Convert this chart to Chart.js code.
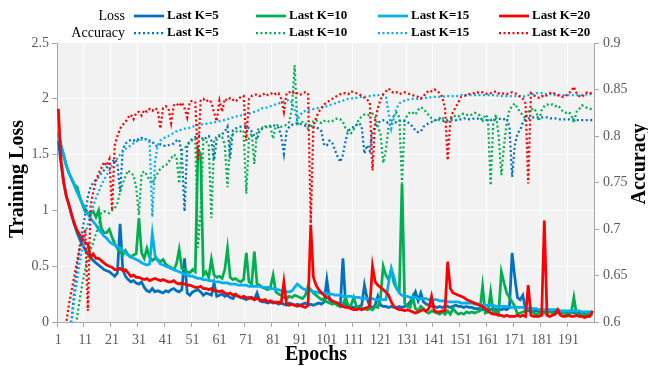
<!DOCTYPE html>
<html>
<head>
<meta charset="utf-8">
<script src="https://cdn.jsdelivr.net/npm/chart.js@4.4.1/dist/chart.umd.min.js"></script>
<style>
  html, body { margin: 0; padding: 0; background: #ffffff; }
</style>
</head>
<body>
<canvas id="myChart" width="648" height="367"></canvas>
<script>
// Categories: training epochs 1..200
const epochs = Array.from({ length: 200 }, (_, i) => i + 1);
const xTickLabels = [1, 11, 21, 31, 41, 51, 61, 71, 81, 91, 101, 111, 121, 131, 141, 151, 161, 171, 181, 191];
const lossTicks = [0, 0.5, 1, 1.5, 2, 2.5];
const accTicks = [0.6, 0.65, 0.7, 0.75, 0.8, 0.85, 0.9];
const seriesNames = ['Last K=5', 'Last K=10', 'Last K=15', 'Last K=20'];

// Training loss (left axis)
const lossK5 = [
  1.62, 1.42, 1.25, 1.13, 1.04, 0.95, 0.87, 0.80, 0.74, 0.69, 0.65, 0.61, 0.58, 0.55, 0.53, 0.51, 0.49, 0.47, 0.46, 0.45,
  0.43, 0.41, 0.44, 0.88, 0.47, 0.41, 0.38, 0.36, 0.37, 0.35, 0.34, 0.36, 0.31, 0.28, 0.27, 0.30, 0.27, 0.28, 0.27, 0.26,
  0.28, 0.27, 0.29, 0.30, 0.28, 0.27, 0.29, 0.57, 0.26, 0.24, 0.27, 0.28, 0.29, 0.27, 0.24, 0.26, 0.25, 0.24, 0.35, 0.23,
  0.24, 0.25, 0.23, 0.24, 0.22, 0.21, 0.24, 0.23, 0.22, 0.21, 0.20, 0.22, 0.21, 0.20, 0.26, 0.19, 0.18, 0.18, 0.17, 0.18,
  0.17, 0.18, 0.16, 0.17, 0.16, 0.15, 0.17, 0.16, 0.15, 0.16, 0.15, 0.16, 0.17, 0.15, 0.16, 0.15, 0.16, 0.17, 0.16, 0.18,
  0.38, 0.20, 0.18, 0.17, 0.15, 0.14, 0.57, 0.15, 0.14, 0.14, 0.13, 0.13, 0.14, 0.15, 0.33, 0.21, 0.14, 0.13, 0.15, 0.23,
  0.15, 0.14, 0.14, 0.13, 0.14, 0.13, 0.13, 0.14, 0.13, 0.14, 0.15, 0.18, 0.22, 0.27, 0.19, 0.26, 0.18, 0.16, 0.15, 0.14,
  0.14, 0.13, 0.14, 0.13, 0.14, 0.14, 0.13, 0.14, 0.15, 0.14, 0.14, 0.13, 0.14, 0.13, 0.13, 0.12, 0.12, 0.12, 0.11, 0.12,
  0.11, 0.11, 0.12, 0.11, 0.11, 0.11, 0.12, 0.11, 0.13, 0.62, 0.40, 0.22, 0.20, 0.24, 0.11, 0.10, 0.10, 0.10, 0.10, 0.10,
  0.10, 0.09, 0.10, 0.09, 0.09, 0.09, 0.09, 0.09, 0.09, 0.09, 0.09, 0.09, 0.08, 0.09, 0.08, 0.08, 0.08, 0.08, 0.08, 0.08
];
const lossK10 = [
  1.69, 1.58, 1.50, 1.40, 1.33, 1.28, 1.23, 1.21, 1.12, 1.05, 0.99, 0.98, 0.97, 0.99, 0.94, 1.00, 0.84, 0.80, 0.80, 0.83,
  0.76, 0.70, 0.66, 0.63, 0.60, 0.64, 0.60, 0.58, 0.60, 0.61, 0.93, 0.62, 0.57, 0.66, 0.58, 0.55, 0.57, 0.56, 0.54, 0.56,
  0.52, 0.50, 0.49, 0.47, 0.52, 0.65, 0.48, 0.47, 0.45, 0.44, 0.47, 0.45, 1.55, 1.50, 0.42, 0.45, 0.40, 0.56, 0.42, 0.40,
  0.41, 0.39, 0.47, 0.66, 0.40, 0.38, 0.39, 0.37, 0.36, 0.38, 0.62, 0.36, 0.34, 0.63, 0.34, 0.33, 0.31, 0.30, 0.29, 0.31,
  0.42, 0.27, 0.25, 0.24, 0.22, 0.21, 0.23, 0.22, 0.24, 0.23, 0.22, 0.21, 0.24, 0.32, 0.29, 0.26, 0.24, 0.22, 0.20, 0.21,
  0.18, 0.17, 0.16, 0.17, 0.15, 0.14, 0.16, 0.22, 0.14, 0.15, 0.22, 0.14, 0.13, 0.12, 0.12, 0.11, 0.12, 0.11, 0.14, 0.13,
  0.22, 0.50, 0.42, 0.38, 0.47, 0.35, 0.30, 0.28, 1.24, 0.17, 0.14, 0.13, 0.22, 0.12, 0.10, 0.14, 0.12, 0.09, 0.08, 0.10,
  0.09, 0.08, 0.07, 0.09, 0.07, 0.10, 0.07, 0.12, 0.09, 0.07, 0.08, 0.07, 0.09, 0.08, 0.09, 0.08, 0.09, 0.10, 0.32, 0.08,
  0.09, 0.27, 0.08, 0.09, 0.08, 0.45, 0.35, 0.26, 0.22, 0.18, 0.14, 0.07, 0.08, 0.09, 0.10, 0.12, 0.13, 0.08, 0.07, 0.08,
  0.07, 0.08, 0.07, 0.10, 0.08, 0.07, 0.09, 0.07, 0.08, 0.07, 0.07, 0.08, 0.22, 0.07, 0.06, 0.07, 0.06, 0.07, 0.06, 0.07
];
const lossK15 = [
  1.70, 1.58, 1.48, 1.40, 1.33, 1.28, 1.22, 1.16, 1.11, 1.06, 1.02, 0.97, 0.93, 0.90, 0.87, 0.83, 0.80, 0.77, 0.75, 0.72,
  0.70, 0.69, 0.68, 0.66, 0.64, 0.62, 0.60, 0.59, 0.57, 0.56, 0.55, 0.53, 0.52, 0.51, 0.52, 0.79, 0.60, 0.55, 0.52, 0.51,
  0.50, 0.49, 0.48, 0.47, 0.46, 0.45, 0.44, 0.43, 0.42, 0.41, 0.41, 0.40, 0.39, 0.39, 0.38, 0.38, 0.37, 0.37, 0.36, 0.36,
  0.36, 0.35, 0.35, 0.35, 0.34, 0.34, 0.34, 0.33, 0.33, 0.33, 0.33, 0.32, 0.32, 0.32, 0.32, 0.32, 0.31, 0.31, 0.31, 0.30,
  0.30, 0.29, 0.29, 0.28, 0.28, 0.27, 0.27, 0.28, 0.31, 0.34, 0.32, 0.30, 0.29, 0.28, 0.28, 0.27, 0.27, 0.26, 0.26, 0.26,
  0.25, 0.25, 0.25, 0.24, 0.24, 0.24, 0.23, 0.23, 0.23, 0.23, 0.22, 0.22, 0.22, 0.21, 0.21, 0.21, 0.21, 0.21, 0.20, 0.20,
  0.20, 0.20, 0.20, 0.35, 0.48, 0.40, 0.30, 0.26, 0.24, 0.23, 0.23, 0.22, 0.22, 0.22, 0.21, 0.21, 0.21, 0.21, 0.20, 0.20,
  0.20, 0.20, 0.19, 0.19, 0.19, 0.18, 0.18, 0.18, 0.18, 0.18, 0.17, 0.17, 0.17, 0.17, 0.17, 0.16, 0.16, 0.16, 0.15, 0.15,
  0.15, 0.15, 0.15, 0.14, 0.14, 0.14, 0.14, 0.14, 0.13, 0.13, 0.13, 0.13, 0.13, 0.13, 0.12, 0.12, 0.12, 0.12, 0.12, 0.11,
  0.11, 0.11, 0.11, 0.11, 0.11, 0.11, 0.11, 0.10, 0.10, 0.10, 0.10, 0.10, 0.10, 0.10, 0.10, 0.09, 0.09, 0.09, 0.09, 0.09
];
const lossK20 = [
  1.91, 1.45, 1.25, 1.12, 1.05, 0.96, 0.88, 0.82, 0.78, 0.74, 0.71, 0.70, 0.58, 0.61, 0.57, 0.57, 0.55, 0.53, 0.51, 0.50,
  0.49, 0.47, 0.47, 0.48, 0.46, 0.47, 0.44, 0.41, 0.42, 0.40, 0.40, 0.39, 0.38, 0.39, 0.37, 0.38, 0.39, 0.38, 0.37, 0.38,
  0.37, 0.36, 0.36, 0.37, 0.35, 0.34, 0.35, 0.34, 0.33, 0.33, 0.32, 0.31, 0.31, 0.32, 0.30, 0.30, 0.29, 0.30, 0.28, 0.28,
  0.27, 0.28, 0.26, 0.25, 0.26, 0.24, 0.25, 0.23, 0.22, 0.23, 0.22, 0.21, 0.22, 0.20, 0.21, 0.20, 0.19, 0.20, 0.18, 0.19,
  0.18, 0.17, 0.18, 0.17, 0.36, 0.16, 0.15, 0.16, 0.15, 0.14, 0.15, 0.14, 0.13, 0.15, 0.87, 0.40, 0.33, 0.29, 0.26, 0.24,
  0.22, 0.21, 0.19, 0.18, 0.17, 0.15, 0.14, 0.13, 0.13, 0.12, 0.11, 0.11, 0.12, 0.11, 0.12, 0.13, 0.14, 0.50, 0.36, 0.33,
  0.31, 0.29, 0.27, 0.24, 0.18, 0.14, 0.12, 0.11, 0.11, 0.10, 0.11, 0.10, 0.09, 0.08, 0.09, 0.10, 0.11, 0.10, 0.12, 0.23,
  0.10, 0.09, 0.09, 0.10, 0.10, 0.54, 0.30, 0.26, 0.25, 0.24, 0.23, 0.22, 0.20, 0.19, 0.18, 0.17, 0.16, 0.15, 0.14, 0.12,
  0.10, 0.08, 0.07, 0.07, 0.06, 0.06, 0.05, 0.06, 0.05, 0.05, 0.05, 0.06, 0.05, 0.06, 0.05, 0.33, 0.06, 0.05, 0.05, 0.05,
  0.06, 0.91, 0.06, 0.05, 0.06, 0.07, 0.11, 0.06, 0.05, 0.05, 0.06, 0.05, 0.05, 0.06, 0.05, 0.05, 0.04, 0.05, 0.05, 0.10
];

// Accuracy (right axis)
const accK5 = [
  0.45, 0.49, 0.53, 0.565, 0.59, 0.605, 0.635, 0.66, 0.683, 0.70, 0.715, 0.735, 0.745, 0.75, 0.753, 0.756, 0.76, 0.763, 0.766, 0.769,
  0.772, 0.775, 0.77, 0.74, 0.785, 0.792, 0.794, 0.796, 0.795, 0.797, 0.796, 0.798, 0.796, 0.797, 0.795, 0.794, 0.79, 0.789, 0.791, 0.79,
  0.789, 0.79, 0.791, 0.792, 0.795, 0.796, 0.78, 0.719, 0.79, 0.795, 0.797, 0.799, 0.801, 0.8, 0.796, 0.798, 0.8, 0.795, 0.774, 0.797,
  0.8, 0.802, 0.805, 0.81, 0.776, 0.806, 0.808, 0.809, 0.81, 0.81, 0.811, 0.808, 0.805, 0.8, 0.796, 0.806, 0.808, 0.81, 0.81, 0.811,
  0.812, 0.81, 0.809, 0.8, 0.781, 0.805, 0.81, 0.812, 0.813, 0.814, 0.813, 0.812, 0.811, 0.812, 0.811, 0.81, 0.809, 0.808, 0.805, 0.79,
  0.79, 0.795, 0.793, 0.785, 0.778, 0.772, 0.78, 0.795, 0.806, 0.808, 0.81, 0.812, 0.814, 0.81, 0.781, 0.79, 0.784, 0.805, 0.81, 0.814,
  0.816, 0.817, 0.815, 0.814, 0.813, 0.814, 0.815, 0.816, 0.817, 0.816, 0.815, 0.813, 0.81, 0.806, 0.804, 0.805, 0.81, 0.812, 0.814, 0.815,
  0.816, 0.818, 0.819, 0.817, 0.815, 0.816, 0.817, 0.818, 0.817, 0.818, 0.818, 0.819, 0.819, 0.818, 0.818, 0.819, 0.819, 0.818, 0.818, 0.817,
  0.817, 0.817, 0.818, 0.818, 0.818, 0.819, 0.818, 0.819, 0.81, 0.756, 0.79, 0.803, 0.806, 0.815, 0.818, 0.819, 0.819, 0.82, 0.82, 0.82,
  0.82, 0.82, 0.82, 0.819, 0.819, 0.819, 0.818, 0.818, 0.818, 0.818, 0.818, 0.818, 0.818, 0.817, 0.817, 0.817, 0.817, 0.817, 0.817, 0.817
];
const accK10 = [
  0.42, 0.46, 0.49, 0.52, 0.545, 0.57, 0.59, 0.605, 0.625, 0.642, 0.657, 0.67, 0.678, 0.685, 0.695, 0.703, 0.717, 0.719, 0.718, 0.717,
  0.72, 0.722, 0.728, 0.74, 0.749, 0.757, 0.763, 0.76, 0.758, 0.745, 0.715, 0.76, 0.762, 0.758, 0.752, 0.749, 0.755, 0.76, 0.765, 0.767,
  0.768, 0.772, 0.776, 0.78, 0.778, 0.749, 0.785, 0.787, 0.79, 0.793, 0.796, 0.797, 0.68, 0.72, 0.796, 0.794, 0.792, 0.712, 0.795, 0.8,
  0.801, 0.799, 0.79, 0.745, 0.796, 0.802, 0.804, 0.806, 0.805, 0.806, 0.738, 0.797, 0.803, 0.77, 0.806, 0.808, 0.809, 0.81, 0.809, 0.81,
  0.797, 0.811, 0.812, 0.81, 0.811, 0.812, 0.815, 0.83, 0.876, 0.813, 0.814, 0.815, 0.814, 0.808, 0.81, 0.816, 0.817, 0.815, 0.814, 0.816,
  0.817, 0.815, 0.816, 0.818, 0.819, 0.818, 0.815, 0.808, 0.805, 0.803, 0.807, 0.812, 0.818, 0.821, 0.823, 0.822, 0.823, 0.824, 0.82, 0.81,
  0.802, 0.771, 0.785, 0.81, 0.816, 0.822, 0.825, 0.82, 0.749, 0.818, 0.822, 0.826, 0.825, 0.823, 0.828, 0.831, 0.829, 0.826, 0.822, 0.819,
  0.817, 0.816, 0.818, 0.819, 0.818, 0.817, 0.818, 0.82, 0.822, 0.821, 0.823, 0.824, 0.823, 0.822, 0.823, 0.825, 0.824, 0.822, 0.815, 0.823,
  0.82, 0.747, 0.815, 0.823, 0.8, 0.758, 0.79, 0.815, 0.828, 0.832, 0.835, 0.83, 0.826, 0.822, 0.819, 0.826, 0.828, 0.83, 0.826, 0.816,
  0.828, 0.832, 0.834, 0.833, 0.834, 0.832, 0.833, 0.83, 0.826, 0.825, 0.826, 0.823, 0.814, 0.826, 0.829, 0.833, 0.832, 0.83, 0.829, 0.83
];
const accK15 = [
  0.45, 0.49, 0.53, 0.56, 0.585, 0.602, 0.625, 0.645, 0.665, 0.68, 0.695, 0.705, 0.715, 0.725, 0.733, 0.74, 0.747, 0.753, 0.758, 0.763,
  0.768, 0.772, 0.776, 0.78, 0.783, 0.786, 0.788, 0.79, 0.792, 0.794, 0.795, 0.796, 0.797, 0.796, 0.793, 0.713, 0.772, 0.79, 0.795, 0.797,
  0.799, 0.80, 0.802, 0.803, 0.805, 0.806, 0.807, 0.808, 0.808, 0.809, 0.81, 0.811, 0.812, 0.812, 0.813, 0.813, 0.814, 0.814, 0.815, 0.815,
  0.816, 0.817, 0.817, 0.818, 0.819, 0.82, 0.821, 0.821, 0.822, 0.823, 0.824, 0.824, 0.825, 0.826, 0.827, 0.828, 0.83, 0.83, 0.831, 0.832,
  0.833, 0.834, 0.835, 0.836, 0.837, 0.838, 0.839, 0.836, 0.828, 0.817, 0.822, 0.826, 0.827, 0.828, 0.829, 0.829, 0.83, 0.83, 0.831, 0.831,
  0.832, 0.833, 0.834, 0.835, 0.836, 0.837, 0.838, 0.839, 0.84, 0.84, 0.841, 0.841, 0.842, 0.842, 0.842, 0.843, 0.843, 0.843, 0.844, 0.844,
  0.844, 0.844, 0.842, 0.825, 0.808, 0.82, 0.83, 0.835, 0.837, 0.838, 0.839, 0.839, 0.84, 0.84, 0.84, 0.841, 0.841, 0.841, 0.841, 0.842,
  0.842, 0.842, 0.842, 0.842, 0.843, 0.843, 0.843, 0.843, 0.843, 0.843, 0.844, 0.844, 0.844, 0.844, 0.844, 0.844, 0.844, 0.844, 0.844, 0.844,
  0.844, 0.844, 0.844, 0.844, 0.843, 0.843, 0.843, 0.843, 0.843, 0.843, 0.843, 0.843, 0.843, 0.842, 0.843, 0.844, 0.845, 0.845, 0.846, 0.846,
  0.846, 0.845, 0.845, 0.845, 0.845, 0.844, 0.844, 0.844, 0.844, 0.844, 0.844, 0.844, 0.844, 0.844, 0.844, 0.844, 0.844, 0.845, 0.845, 0.845
];
const accK20 = [
  0.50, 0.55, 0.58, 0.60, 0.62, 0.635, 0.65, 0.665, 0.68, 0.69, 0.70, 0.612, 0.725, 0.74, 0.752, 0.76, 0.765, 0.772, 0.768, 0.775,
  0.72, 0.79, 0.80, 0.808, 0.812, 0.815, 0.82, 0.823, 0.818, 0.825, 0.826, 0.822, 0.828, 0.826, 0.829, 0.827, 0.83, 0.828, 0.808, 0.83,
  0.832, 0.83, 0.814, 0.833, 0.835, 0.832, 0.836, 0.83, 0.82, 0.837, 0.838, 0.836, 0.774, 0.838, 0.84, 0.837, 0.839, 0.836, 0.825, 0.816,
  0.838, 0.826, 0.84, 0.838, 0.841, 0.839, 0.837, 0.84, 0.842, 0.843, 0.795, 0.84, 0.843, 0.844, 0.845, 0.843, 0.844, 0.846, 0.844, 0.845,
  0.847, 0.845, 0.846, 0.84, 0.826, 0.846, 0.847, 0.848, 0.845, 0.846, 0.844, 0.846, 0.847, 0.846, 0.706, 0.81, 0.82, 0.826, 0.83, 0.834,
  0.836, 0.838, 0.84, 0.842, 0.843, 0.845, 0.846, 0.846, 0.845, 0.848, 0.847, 0.846, 0.845, 0.843, 0.841, 0.839, 0.836, 0.763, 0.817, 0.83,
  0.839, 0.845, 0.848, 0.851, 0.848, 0.846, 0.847, 0.845, 0.846, 0.847, 0.846, 0.845, 0.844, 0.843, 0.842, 0.84, 0.843, 0.846, 0.849, 0.848,
  0.85, 0.849, 0.846, 0.842, 0.83, 0.774, 0.817, 0.826, 0.831, 0.836, 0.842, 0.843, 0.844, 0.845, 0.846, 0.846, 0.847, 0.846, 0.847, 0.846,
  0.845, 0.846, 0.847, 0.848, 0.846, 0.845, 0.846, 0.845, 0.846, 0.847, 0.846, 0.845, 0.842, 0.84, 0.835, 0.749, 0.846, 0.844, 0.842, 0.841,
  0.843, 0.842, 0.844, 0.846, 0.847, 0.845, 0.844, 0.843, 0.842, 0.843, 0.846, 0.848, 0.853, 0.846, 0.843, 0.842, 0.845, 0.847, 0.846, 0.847
];

const colors = ['#0070C0', '#00B050', '#00B0F0', '#FF0000'];
const axisGray = '#A6A6A6';
const tickGray = '#595959';
const clear = 'rgba(0,0,0,0)';
const dots = [2, 2.5];

Chart.defaults.font.family = "'Liberation Serif', 'Times New Roman', serif";

const isMajor = i => xTickLabels.includes(epochs[i]);

// Gray plot area behind the gridlines
const plotBackground = {
    id: 'plotBackground',
    beforeDraw(chart) {
        const { ctx, chartArea: a } = chart;
        ctx.save();
        ctx.fillStyle = '#F2F2F2';
        ctx.fillRect(a.left, a.top, a.right - a.left, a.bottom - a.top);
        ctx.restore();
    }
};

// Two-row legend and the axis titles
const overlay = {
    id: 'overlay',
    afterDraw(chart) {
        const ctx = chart.ctx;
        ctx.save();
        ctx.fillStyle = '#000000';
        ctx.textBaseline = 'middle';

        // axis titles
        ctx.font = "bold 20px 'Liberation Serif'";
        ctx.textAlign = 'center';
        ctx.fillText('Epochs', 316, 355);
        ctx.save();
        ctx.translate(18, 179);
        ctx.rotate(-Math.PI / 2);
        ctx.fillText('Training Loss', 0, 0);
        ctx.restore();
        ctx.save();
        ctx.translate(640, 164);
        ctx.rotate(-Math.PI / 2);
        ctx.fillText('Accuracy', 0, 0);
        ctx.restore();

        // legend
        const rows = [{ head: 'Loss', y: 16, dash: [] }, { head: 'Accuracy', y: 33, dash: dots }];
        const starts = [134, 256, 378, 499];
        rows.forEach(row => {
            ctx.font = "14px 'Liberation Serif'";
            ctx.textAlign = 'right';
            ctx.fillStyle = '#000000';
            ctx.fillText(row.head, 125, row.y);
            seriesNames.forEach((name, k) => {
                const x0 = starts[k];
                ctx.beginPath();
                ctx.setLineDash(row.dash);
                ctx.lineWidth = row.dash.length ? 2.25 : 2.75;
                ctx.strokeStyle = colors[k];
                ctx.moveTo(x0, row.y);
                ctx.lineTo(x0 + 30, row.y);
                ctx.stroke();
                ctx.setLineDash([]);
                ctx.font = "bold 13px 'Liberation Serif'";
                ctx.textAlign = 'left';
                ctx.fillStyle = '#000000';
                ctx.fillText(name, x0 + 33, row.y);
            });
        });
        ctx.restore();
    }
};

const lossSeries = [lossK5, lossK10, lossK15, lossK20];
const accSeries = [accK5, accK10, accK15, accK20];

const datasets = [];
lossSeries.forEach((data, k) => {
    datasets.push({
        label: 'Loss ' + seriesNames[k],
        data: data,
        yAxisID: 'y',
        borderColor: colors[k],
        borderWidth: 2.75,
        pointRadius: 0,
        tension: 0,
        order: 8 - k
    });
});
accSeries.forEach((data, k) => {
    datasets.push({
        label: 'Accuracy ' + seriesNames[k],
        data: data,
        yAxisID: 'y1',
        borderColor: colors[k],
        borderWidth: 2.25,
        borderDash: dots,
        pointRadius: 0,
        tension: 0,
        order: 4 - k
    });
});

new Chart(document.getElementById('myChart'), {
    type: 'line',
    data: { labels: epochs, datasets: datasets },
    options: {
        responsive: false,
        devicePixelRatio: 1,
        animation: false,
        layout: { padding: { top: 43, left: 0, right: 0, bottom: 0 } },
        plugins: {
            legend: { display: false },
            tooltip: { enabled: false }
        },
        scales: {
            x: {
                type: 'category',
                offset: true,
                grid: {
                    offset: true,
                    color: c => (isMajor(c.index) && c.index > 0) ? '#FFFFFF' : clear,
                    tickColor: c => isMajor(c.index) ? axisGray : clear,
                    tickLength: 5,
                    lineWidth: 1
                },
                border: { color: axisGray, width: 1 },
                ticks: {
                    autoSkip: false,
                    maxRotation: 0,
                    minRotation: 0,
                    padding: 5,
                    color: tickGray,
                    font: { size: 14 },
                    callback: (v, i) => isMajor(i) ? String(epochs[i]) : ''
                },
                afterFit: s => { s.height = 45; }
            },
            y: {
                position: 'left',
                min: lossTicks[0],
                max: lossTicks[lossTicks.length - 1],
                afterBuildTicks: s => { s.ticks = lossTicks.map(v => ({ value: v })); },
                grid: {
                    color: c => (c.tick && c.tick.value > 0 && c.tick.value < 2.5) ? '#FFFFFF' : clear,
                    tickColor: axisGray,
                    tickLength: 5,
                    lineWidth: 1
                },
                border: { color: axisGray, width: 1 },
                ticks: {
                    padding: 3,
                    color: tickGray,
                    font: { size: 14 },
                    callback: v => String(v)
                },
                afterFit: s => { s.width = 57; }
            },
            y1: {
                position: 'right',
                min: accTicks[0],
                max: accTicks[accTicks.length - 1],
                afterBuildTicks: s => { s.ticks = accTicks.map(v => ({ value: v })); },
                grid: {
                    drawOnChartArea: false,
                    tickColor: axisGray,
                    tickLength: 5
                },
                border: { color: axisGray, width: 1 },
                ticks: {
                    padding: 4,
                    color: tickGray,
                    font: { size: 14 },
                    callback: v => String(v)
                },
                afterFit: s => { s.width = 54; }
            }
        }
    },
    plugins: [plotBackground, overlay]
});
</script>
</body>
</html>
